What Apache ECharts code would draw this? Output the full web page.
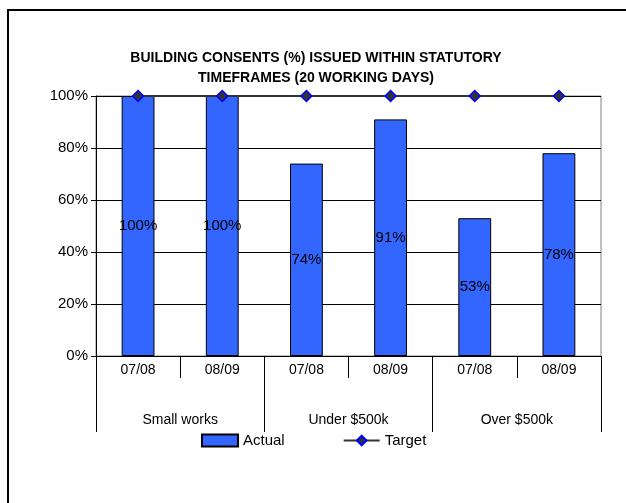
<!DOCTYPE html>
<html>
<head>
<meta charset="utf-8">
<script src="https://cdn.jsdelivr.net/npm/echarts@6/dist/echarts.min.js"></script>
<style>
  html, body { margin: 0; padding: 0; background: #fff; }
  #chart { width: 626px; height: 503px; }
</style>
</head>
<body>
<div id="chart"></div>
<script>
// Periods (inner category row) and groups (outer category row)
var periods = ['07/08', '08/09', '07/08', '08/09', '07/08', '08/09'];
var groups = ['Small works', 'Under $500k', 'Over $500k'];
// Share of consents issued within the statutory timeframe (%)
var actual = [100, 100, 74, 91, 53, 78];
var target = [100, 100, 100, 100, 100, 100];
var yTicks = [0, 20, 40, 60, 80, 100];

var FONT = '"Liberation Sans Narrow", "Arial Narrow", "Liberation Sans", Arial, sans-serif';

var chart = echarts.init(document.getElementById('chart'), null, { renderer: 'canvas' });

chart.setOption({
  animation: false,
  backgroundColor: '#ffffff',
  title: {
    text: 'BUILDING CONSENTS (%) ISSUED WITHIN STATUTORY\nTIMEFRAMES (20 WORKING DAYS)',
    left: 311,
    top: 43,
    textAlign: 'center',
    textStyle: { fontFamily: FONT, fontSize: 14, fontWeight: 'bold', color: '#000', lineHeight: 20 }
  },
  graphic: [{
    type: 'rect',
    shape: { x: 8, y: 10, width: 640, height: 520 },
    style: { fill: 'none', stroke: '#000', lineWidth: 2 },
    silent: true
  }],
  legend: {
    left: 196,
    top: 428,
    itemGap: 58,
    itemWidth: 36,
    itemHeight: 12,
    textStyle: { fontFamily: FONT, fontSize: 15, color: '#000' },
    data: [
      { name: 'Actual', icon: 'rect' },
      { name: 'Target' }
    ]
  },
  grid: {
    left: 96, right: 25, top: 96, bottom: 147,
    show: true, borderColor: '#808080', borderWidth: 1, backgroundColor: 'transparent'
  },
  xAxis: [{
    type: 'category',
    data: periods,
    position: 'bottom',
    axisLine: { show: true, lineStyle: { color: '#000', width: 1 } },
    axisTick: { show: true, length: 22, interval: 0, lineStyle: { color: '#000' } },
    axisLabel: { interval: 0, margin: 7, fontFamily: FONT, fontSize: 14, color: '#000' }
  }, {
    type: 'category',
    data: groups,
    position: 'bottom',
    axisLine: { show: false },
    axisTick: { show: true, length: 76, interval: 0, lineStyle: { color: '#000' } },
    axisLabel: { interval: 0, margin: 57, fontFamily: FONT, fontSize: 14, color: '#000' }
  }],
  yAxis: {
    type: 'value',
    min: yTicks[0],
    max: yTicks[yTicks.length - 1],
    interval: 20,
    axisLine: { show: true, lineStyle: { color: '#000' } },
    axisTick: { show: true, length: 5, lineStyle: { color: '#000' } },
    axisLabel: { margin: 8, fontFamily: FONT, fontSize: 15, color: '#000', formatter: '{value}%' },
    splitLine: { show: true, lineStyle: { color: '#000', width: 1 } }
  },
  series: [{
    name: 'Actual',
    type: 'bar',
    xAxisIndex: 0,
    data: actual,
    barWidth: '39%',
    itemStyle: { color: '#3366FF', borderColor: '#000', borderWidth: 1 },
    label: {
      show: true, position: 'inside', formatter: '{c}%',
      fontFamily: FONT, fontSize: 15, color: '#000'
    },
    z: 2
  }, {
    name: 'Target',
    type: 'line',
    xAxisIndex: 0,
    data: target,
    symbol: 'diamond',
    symbolSize: 11,
    lineStyle: { color: '#333333', width: 2 },
    itemStyle: { color: '#333333', borderColor: '#0000FF', borderWidth: 1.5 },
    z: 3
  }]
});
</script>
</body>
</html>
